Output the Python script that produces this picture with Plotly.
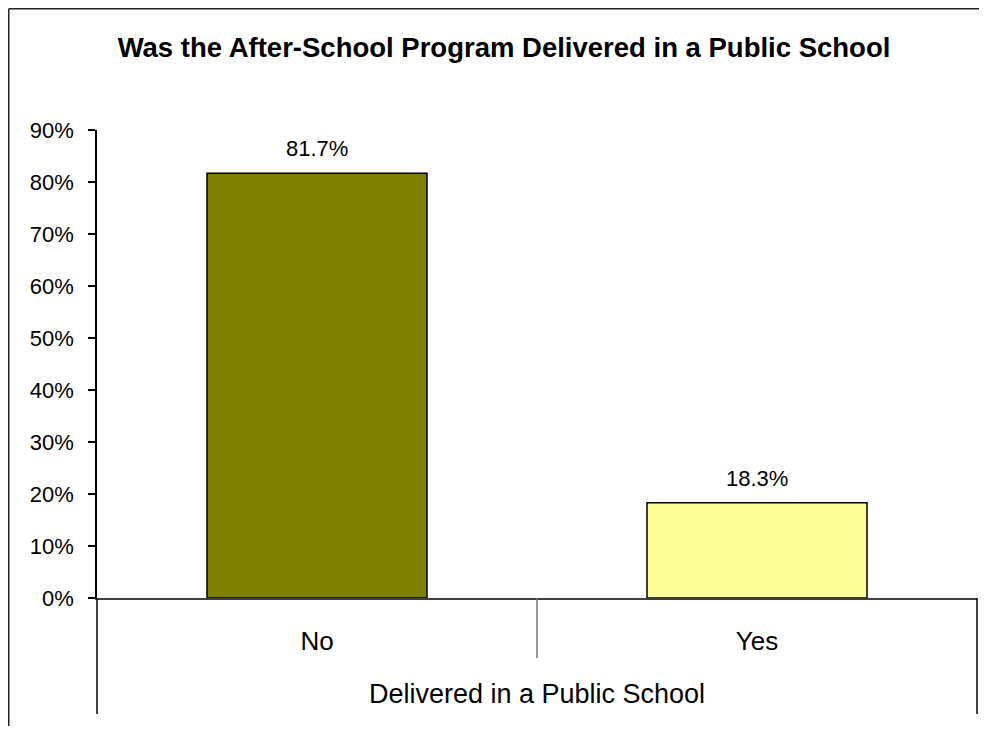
import plotly.graph_objects as go

categories = ["No", "Yes"]
values = [81.7, 18.3]
bar_colors = ["#808000", "#FFFF99"]
y_ticks = [0, 10, 20, 30, 40, 50, 60, 70, 80, 90]
y_tick_labels = [f"{t}%" for t in y_ticks]

OFF = 8  # default browser body margin
W, H = 987 - 2 * OFF, 734 - 2 * OFF
PLOT_RIGHT = 977  # screenshot px
L, T = 97 - OFF, 130 - OFF
R = W - (PLOT_RIGHT - OFF)
B = H - (598 - OFF)
pw, ph = W - L - R, H - T - B

def fx(x):  # figure-pixel x -> paper
    return (x - L) / pw

def fy(y):  # figure-pixel y -> paper
    return (H - B - y) / ph

def sy(y):  # screenshot-pixel y -> paper
    return fy(y - OFF)

fig = go.Figure()
fig.add_trace(go.Bar(
    x=categories, y=values, width=0.5,
    marker=dict(color=bar_colors, line=dict(color="#000000", width=1.5)),
    hoverinfo="skip",
))

for c, v in zip(categories, values):
    fig.add_annotation(x=c, y=v, text=f"{v:.1f}%", showarrow=False,
                       yanchor="bottom", yshift=10,
                       font=dict(family="Liberation Sans, Arial", size=22, color="#000"))

line_dark = dict(color="#000000", width=1.5)
border = dict(color="#222", width=1.5)
shapes = [
    dict(type="line", xref="paper", yref="paper", x0=fx(0.75), x1=fx(W + 5), y0=fy(0.75), y1=fy(0.75), line=border),
    dict(type="line", xref="paper", yref="paper", x0=fx(0.75), x1=fx(0.75), y0=fy(0.75), y1=fy(H + 5), line=border),
    dict(type="line", xref="paper", yref="paper", x0=0, x1=0, y0=0, y1=sy(714), line=line_dark),
    dict(type="line", xref="paper", yref="paper", x0=1, x1=1, y0=0, y1=sy(714), line=line_dark),
    dict(type="line", xref="paper", yref="paper", x0=0.5, x1=0.5, y0=0, y1=sy(658), line=dict(color="#777", width=1.5)),
]

fig.update_layout(
    width=W, height=H,
    margin=dict(l=L, r=R, t=T, b=B),
    paper_bgcolor="white", plot_bgcolor="white",
    showlegend=False,
    font=dict(family="Liberation Sans, Arial", color="#000"),
    title=dict(text="<b>Was the After-School Program Delivered in a Public School</b>",
               x=(504 - OFF) / W, xref="container", xanchor="center",
               y=1 - (47 - OFF) / H, yref="container", yanchor="middle",
               font=dict(family="Liberation Sans, Arial", size=27.5, color="#000")),
    shapes=shapes,
    xaxis=dict(
        range=[-0.5, 1.5], showgrid=False, zeroline=False,
        showline=True, linecolor="#404040", linewidth=1.5,
        ticks="", tickfont=dict(size=26), ticklabelstandoff=19,
        title=dict(text="Delivered in a Public School", font=dict(size=27), standoff=29),
    ),
    yaxis=dict(
        range=[0, 90], tickvals=y_ticks, ticktext=y_tick_labels,
        showgrid=False, zeroline=False,
        showline=True, linecolor="#000", linewidth=1.5,
        ticks="outside", ticklen=7, tickcolor="#000", tickwidth=1.5,
        tickfont=dict(size=22), ticklabelstandoff=10,
    ),
)

fig.write_html("out.html")
